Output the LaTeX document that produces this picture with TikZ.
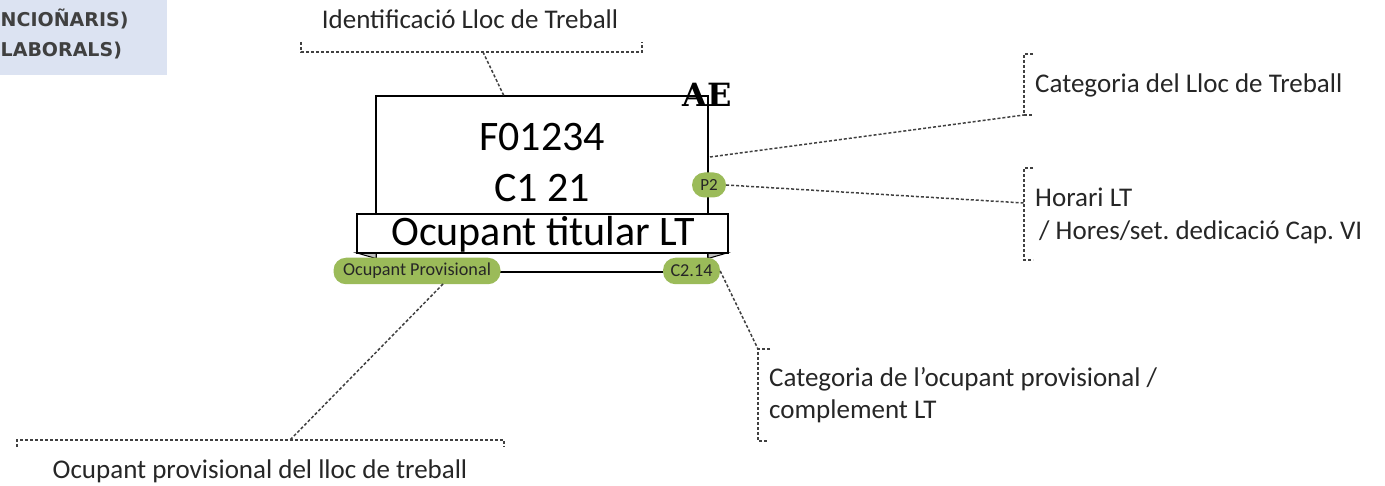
\documentclass[tikz,border=0pt]{standalone}
\usepackage{fontspec}
\setmainfont{Carlito}
\newfontfamily\aefont{DejaVu Serif}
\newfontfamily\shotfont{DejaVu Sans}
\usetikzlibrary{shapes}
\frenchspacing
\definecolor{olive}{HTML}{9BBB59}
\definecolor{lav}{HTML}{DCE3F2}
\definecolor{ink}{HTML}{262626}
\tikzstyle{pill}=[fill=olive,rounded corners=12.5pt,minimum height=26.5pt,inner sep=0pt,text=ink]
\tikzstyle{lead}=[dashed,dash pattern=on 3pt off 2pt,line width=1.5pt,black!75]
\tikzstyle{lbl}=[inner sep=0pt,text=ink,font=\fontsize{27}{33}\selectfont]
\tikzstyle{big}=[inner sep=0pt,font=\fontsize{42}{42}\selectfont]
\tikzstyle{shot}=[anchor=base west,inner sep=0pt,text=black!75,font=\shotfont\bfseries\fontsize{19}{19}\selectfont]

\begin{document}
\begin{tikzpicture}[x=1pt,y=-1pt]
    \useasboundingbox (0,0) rectangle (1385,486);
    % clipped screenshot at top left
    \node[fill=lav,minimum width=167pt,minimum height=75pt,anchor=north west,inner sep=0pt] (shot) at (0,0) {};
    \node[shot] (s1) at (0.5,27) {NCIOÑARIS)};
    \node[shot] (s2) at (0.5,57) {LABORALS)};
    % the post
    \node[draw,line width=2pt,minimum width=332pt,minimum height=176pt,inner sep=0pt] (box) at (542,184) {};
    \node[big,anchor=base] (codi) at (542,151) {F01234};
    \node[big,anchor=base] (cat) at (542,201.7) {C1 21};
    \node[anchor=base,inner sep=0pt,font=\aefont\bfseries\fontsize{32}{32}\selectfont] (ae) at (707,106.5) {AE};
    \filldraw[fill=gray!50,line width=1pt] (376,253) -- (357,253) -- (376,258.5) -- cycle;
    \filldraw[fill=gray!50,line width=1pt] (708,253) -- (727,253) -- (708,258.5) -- cycle;
    \node[draw,fill=white,line width=2pt,minimum width=371pt,minimum height=38.7pt,inner sep=0pt] (tit) at (542.2,233.4) {};
    \node[big,anchor=base] (titt) at (543,245.7) {Ocupant titular LT};
    \node[pill,minimum width=167pt,font=\fontsize{18.2}{18}\selectfont] (op) at (417,271) {Ocupant Provisional};
    \node[pill,minimum width=57pt,font=\fontsize{18.2}{18}\selectfont] (c214) at (691.5,271) {C2.14};
    \node[pill,minimum width=34pt,minimum height=25pt,font=\fontsize{17}{17}\selectfont] (p2) at (709,185) {P2};
    % callouts
    \node[lbl,anchor=base] (id) at (470,28.3) {Identificació Lloc de Treball};
    \node[lbl,anchor=base west] (clt) at (1035,93) {Categoria del Lloc de Treball};
    \node[lbl,anchor=base west,align=left] (hor) at (1035,240) {Horari LT\\\hspace{4pt}/ Hores/set. dedicació Cap. VI};
    \node[lbl,anchor=base west,align=left,font=\fontsize{27}{31.7}\selectfont] (cop) at (769,418.3) {Categoria de l’ocupant provisional /\\complement LT};
    \node[lbl,anchor=base] (opl) at (260,478.3) {Ocupant provisional del lloc de treball};
    % brackets
    \draw[lead] (301,42) -- (301,52) -- (642,52) -- (642,42);
    \draw[lead] (1033,54) -- (1024,54) -- (1024,115) -- (1033,115);
    \draw[lead] (1033,168) -- (1024,168) -- (1024,260) -- (1033,260);
    \draw[lead] (770,349) -- (758,349) -- (758,441) -- (767,441);
    \draw[lead] (17,447) -- (17,440) -- (504,440) -- (504,447);
    \coordinate (idb) at (483,52);
    \coordinate (idp) at (504,96);
    \coordinate (cltb) at (1024,115);
    \coordinate (cltp) at (710,157);
    \coordinate (horb) at (1024,203);
    \coordinate (copb) at (758,349);
    \coordinate (oplb) at (290,440);
    \coordinate (opp) at (443,284);
    \draw[lead] (idb) -- (idp);
    \draw[lead] (cltp) -- (cltb);
    \draw[lead] (p2.east) -- (horb);
    \draw[lead] (c214.east) -- (copb);
    \draw[lead] (opp) -- (oplb);
\end{tikzpicture}
\end{document}
